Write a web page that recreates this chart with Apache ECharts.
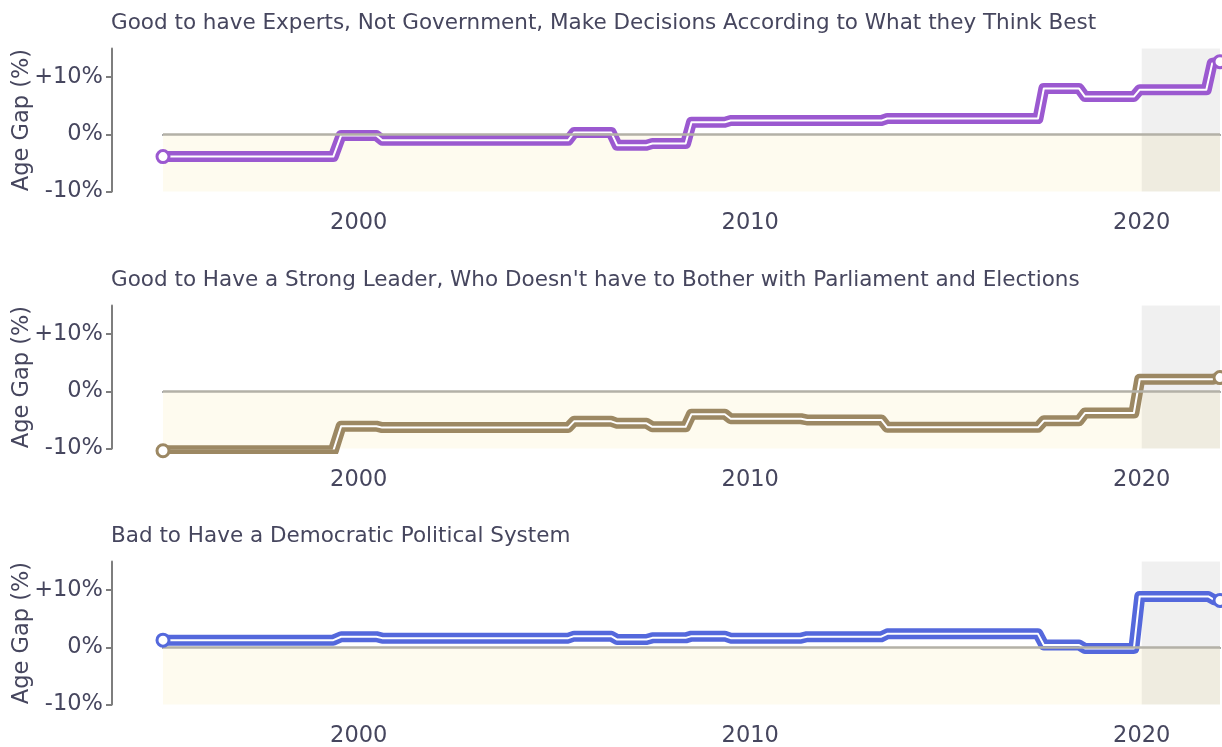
<!DOCTYPE html>
<html>
<head>
<meta charset="utf-8">
<script src="https://cdn.jsdelivr.net/npm/echarts@6/dist/echarts.min.js"></script>
<style>
  html, body { margin: 0; padding: 0; background: #fff; }
  #main { width: 1222px; height: 747px; }
</style>
</head>
<body>
<div id="main"></div>
<script>
// panel titles
var titles = [
  'Good to have Experts, Not Government, Make Decisions According to What they Think Best',
  "Good to Have a Strong Leader, Who Doesn't have to Bother with Parliament and Elections",
  'Bad to Have a Democratic Political System'
]
var colors = ['#9b59d0', '#9c8863', '#5468dc']

// age gap (%), with the year of each point
var yearsExperts = [1995, 1999.35, 1999.55, 2000.45, 2000.6, 2005.35, 2005.5, 2006.45, 2006.6, 2007.35, 2007.5, 2008.35, 2008.5, 2009.35, 2009.5, 2013.35, 2013.5, 2017.35, 2017.5, 2018.4, 2018.55, 2019.8, 2019.95, 2021.65, 2021.8, 2022]
var gapExperts = [-3.9, -3.9, -0.2, -0.2, -1.05, -1.05, 0.3, 0.3, -1.9, -1.9, -1.6, -1.6, 2.1, 2.1, 2.4, 2.4, 2.75, 2.75, 8.0, 8.0, 6.6, 6.6, 7.8, 7.8, 12.4, 12.7]

var yearsLeader = [1995, 1999.35, 1999.55, 2000.45, 2000.6, 2005.35, 2005.5, 2006.45, 2006.6, 2007.35, 2007.5, 2008.35, 2008.5, 2009.35, 2009.5, 2011.3, 2011.45, 2013.35, 2013.5, 2017.35, 2017.5, 2018.4, 2018.55, 2019.8, 2019.95, 2021.8, 2022]
var gapLeader = [-10.4, -10.4, -6.1, -6.1, -6.35, -6.35, -5.25, -5.25, -5.6, -5.6, -6.2, -6.2, -4.0, -4.0, -4.8, -4.8, -5.0, -5.0, -6.3, -6.3, -5.15, -5.15, -3.8, -3.8, 2.1, 2.1, 2.4]

var yearsDemocracy = [1995, 1999.35, 1999.55, 2000.45, 2000.6, 2005.35, 2005.5, 2006.45, 2006.6, 2007.35, 2007.5, 2008.35, 2008.5, 2009.35, 2009.5, 2011.3, 2011.45, 2013.35, 2013.5, 2017.35, 2017.5, 2018.4, 2018.55, 2019.8, 2019.95, 2021.7, 2021.85, 2022]
var gapDemocracy = [1.25, 1.25, 1.85, 1.85, 1.6, 1.6, 1.95, 1.95, 1.35, 1.35, 1.65, 1.65, 1.95, 1.95, 1.6, 1.6, 1.85, 1.85, 2.35, 2.35, 0.4, 0.4, -0.2, -0.2, 8.9, 8.9, 8.3, 8.2]

var panelYears = [yearsExperts, yearsLeader, yearsDemocracy]
var panelGaps = [gapExperts, gapLeader, gapDemocracy]

var xTicks = [2000, 2010, 2020]
var yTicks = [-10, 0, 10]
var xMin = 1995, xMax = 2022
var yMin = -10, yMax = 15
var shadeFrom = 2020

var textColor = '#46465e'
var font = 'DejaVu Sans'
var gridTops = [48.5, 305.5, 561.5]
var gridHeight = 143

var grids = [], xAxes = [], yAxes = [], series = [], titleOpts = []

for (var i = 0; i < 3; i++) {
  var pts = panelYears[i].map(function (y, k) { return [y, panelGaps[i][k]] })
  var ends = [pts[0], pts[pts.length - 1]]

  titleOpts.push({
    text: titles[i],
    left: 111,
    top: gridTops[i] - 36,
    padding: 0,
    textStyle: { fontFamily: font, fontSize: 21.5, fontWeight: 'normal', color: textColor }
  })
  grids.push({ left: 163, right: 2, top: gridTops[i], height: gridHeight, outerBoundsMode: 'none', containLabel: false })
  xAxes.push({
    type: 'value', gridIndex: i, min: xMin, max: xMax, offset: 14,
    splitLine: { show: false },
    axisLine: { lineStyle: { color: '#8e8e8e', width: 2 } },
    axisTick: { customValues: xTicks, length: 5, lineStyle: { color: '#666', width: 1.5 } },
    axisLabel: {
      customValues: xTicks, margin: 6, fontFamily: font, fontSize: 22.5, color: textColor,
      formatter: function (v) { return String(v) }
    }
  })
  yAxes.push({
    type: 'value', gridIndex: i, min: yMin, max: yMax, offset: 51,
    name: 'Age Gap (%)', nameLocation: 'middle', nameGap: 78, nameMoveOverlap: false,
    nameTextStyle: { fontFamily: font, fontSize: 22.5, color: textColor },
    splitLine: { show: false },
    axisLine: { show: true, lineStyle: { color: '#7e7e7e', width: 2 } },
    axisTick: { show: true, customValues: yTicks, length: 6, lineStyle: { color: '#7e7e7e', width: 2 } },
    axisLabel: {
      customValues: yTicks, margin: 9, fontFamily: font, fontSize: 22.5, color: textColor,
      formatter: function (v) { return (v > 0 ? '+' : '') + v + '%' }
    }
  })
  // background bands and zero line
  series.push({
    type: 'line', xAxisIndex: i, yAxisIndex: i, data: pts, symbol: 'none', silent: true, z: 1,
    lineStyle: { opacity: 0 },
    markArea: {
      silent: true,
      data: [
        [{ xAxis: xMin, yAxis: 0, itemStyle: { color: '#fefbef' } }, { xAxis: xMax, yAxis: yMin }],
        [{ xAxis: shadeFrom, yAxis: yMax, itemStyle: { color: 'rgba(0,0,0,0.058)' } }, { xAxis: xMax, yAxis: yMin }]
      ]
    },
    markLine: {
      silent: true, symbol: 'none', label: { show: false },
      lineStyle: { color: '#b3b1a7', width: 2.5, type: 'solid' },
      data: [{ yAxis: 0 }]
    }
  })
  series.push({
    type: 'line', xAxisIndex: i, yAxisIndex: i, data: pts, symbol: 'none', z: 3,
    lineStyle: { color: colors[i], width: 11, join: 'round', cap: 'round' }
  })
  series.push({
    type: 'line', xAxisIndex: i, yAxisIndex: i, data: pts, symbol: 'none', z: 4,
    lineStyle: { color: '#fff', width: 2, join: 'round' }
  })
  series.push({
    type: 'scatter', xAxisIndex: i, yAxisIndex: i, data: ends, symbol: 'circle', symbolSize: 12, z: 5,
    clip: false,
    itemStyle: { color: '#fff', borderColor: colors[i], borderWidth: 3, opacity: 1 }
  })
}

var chart = echarts.init(document.getElementById('main'))
chart.setOption({
  animation: false,
  backgroundColor: '#fff',
  title: titleOpts,
  grid: grids,
  xAxis: xAxes,
  yAxis: yAxes,
  series: series
})
window.addEventListener('resize', function () { chart.resize() })
</script>
</body>
</html>
